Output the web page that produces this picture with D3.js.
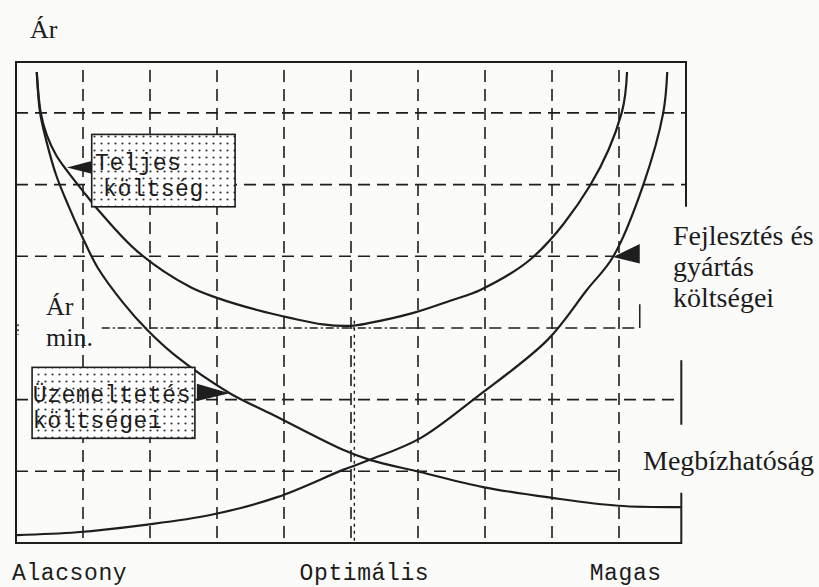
<!DOCTYPE html>
<html>
<head>
<meta charset="utf-8">
<script src="https://cdn.jsdelivr.net/npm/d3@7"></script>
<style>
  body { margin: 0; background: #fbfbf9; }
  svg { display: block; }
  .serif { font-family: "Liberation Serif", "DejaVu Serif", serif; fill: #1c1c1c; }
  .mono { font-family: "Liberation Mono", "DejaVu Sans Mono", monospace; fill: #1c1c1c; }
</style>
</head>
<body>
<div id="chart"></div>
<script>
// reliability (x, 0..10 grid steps) vs price (y, grid steps)
// Üzemeltetés költségei (operating cost) - falling
const opX = [0.31, 0.36, 0.45, 0.60, 0.78, 0.99, 1.22, 1.60, 1.96, 2.37, 3.19, 3.79, 4.88, 5.28, 6.03, 6.97, 8.00, 8.99, 9.93];
const opY = [6.57, 6.00, 5.62, 5.13, 4.71, 4.27, 3.84, 3.35, 2.97, 2.62, 2.09, 1.81, 1.30, 1.16, 0.99, 0.78, 0.63, 0.52, 0.50];
// Teljes költség (total cost) - U shape
const totX = [0.31, 0.37, 0.46, 0.60, 0.78, 0.99, 1.25, 1.82, 2.60, 3.00, 3.60, 4.09, 4.58, 4.99, 5.28, 5.93, 6.48, 6.93, 7.72, 8.57, 9.04, 9.12];
const totY = [6.57, 6.00, 5.69, 5.41, 5.17, 4.92, 4.62, 4.06, 3.57, 3.42, 3.25, 3.14, 3.05, 3.03, 3.07, 3.21, 3.38, 3.53, 3.99, 4.99, 6.00, 6.57];
// Fejlesztés és gyártás költségei (development + production) - rising
const devX = [0.01, 0.91, 1.90, 2.90, 3.90, 4.88, 5.28, 6.03, 6.88, 7.93, 8.52, 8.91, 9.36, 9.66, 9.72];
const devY = [0.11, 0.15, 0.25, 0.39, 0.64, 1.02, 1.16, 1.46, 2.04, 2.83, 3.53, 3.99, 4.99, 6.00, 6.57];

const gridX = [1, 2, 3, 4, 5, 6, 7, 8, 9];
const gridY = [1, 2, 3, 4, 5, 6];
// how far right each horizontal grid line runs (x units)
const gridYEnd = [9.0, 9.93, 9.31, 8.91, 10, 10];

const tickLabels = ["Alacsony", "Optimális", "Magas"];
const tickCenters = [0.8, 5.2, 9.1];

const width = 819, height = 587;

const svg = d3.select("#chart")
  .append("svg")
  .attr("width", width)
  .attr("height", height);

const x = d3.scaleLinear().domain([0, 10]).range([16, 686]);
const y = d3.scaleLinear().domain([0, 6.71]).range([543, 62]);

const ink = "#1e1e1e";

// stipple pattern for the label boxes
const pat = svg.append("defs").append("pattern")
  .attr("id", "dots")
  .attr("patternUnits", "userSpaceOnUse")
  .attr("width", 7).attr("height", 7);
pat.append("rect").attr("width", 7).attr("height", 7).attr("fill", "#fff");
pat.append("circle").attr("cx", 3.5).attr("cy", 3.5).attr("r", 1.1).attr("fill", "#333");

// dashed grid
const grid = svg.append("g")
  .attr("stroke", ink)
  .attr("stroke-width", 1.6)
  .attr("stroke-dasharray", "12,7");

grid.selectAll("line.v")
  .data(gridX)
  .join("line")
  .attr("class", "v")
  .attr("x1", d => x(d)).attr("x2", d => x(d))
  .attr("y1", y(6.6)).attr("y2", y(0));

grid.selectAll("line.h")
  .data(gridY.filter(d => d !== 3))
  .join("line")
  .attr("class", "h")
  .attr("x1", x(0))
  .attr("x2", d => x(gridYEnd[d - 1]))
  .attr("y1", d => y(d)).attr("y2", d => y(d));

// "Ár min." line: dash-dot part then dashed part
svg.append("line")
  .attr("x1", x(1.28)).attr("x2", x(5.93))
  .attr("y1", y(3)).attr("y2", y(3))
  .attr("stroke", ink).attr("stroke-width", 1.6)
  .attr("stroke-dasharray", "8,3,2,3");
svg.append("line")
  .attr("x1", x(5.93)).attr("x2", x(gridYEnd[2]))
  .attr("y1", y(3)).attr("y2", y(3))
  .attr("stroke", ink).attr("stroke-width", 1.6)
  .attr("stroke-dasharray", "12,7");
svg.append("line")
  .attr("x1", x(gridYEnd[2])).attr("x2", x(gridYEnd[2]))
  .attr("y1", y(3)).attr("y2", y(3.33))
  .attr("stroke", ink).attr("stroke-width", 1.5);
// optimum marker, dotted vertical next to the grid line
svg.append("line")
  .attr("x1", x(5.05)).attr("x2", x(5.05))
  .attr("y1", y(3.1)).attr("y2", y(0))
  .attr("stroke", ink).attr("stroke-width", 1.4)
  .attr("stroke-dasharray", "3,4");
svg.append("line")
  .attr("x1", x(0.03)).attr("x2", x(0.03))
  .attr("y1", y(3.05)).attr("y2", y(2.9))
  .attr("stroke", ink).attr("stroke-width", 1.4)
  .attr("stroke-dasharray", "2,3");

// frame (open on the right as in the scan)
const frame = svg.append("g").attr("stroke", ink).attr("stroke-width", 2).attr("fill", "none");
frame.append("path")
  .attr("d", `M${x(10)},${y(4.69)} V${y(6.71)} H${x(0)} V${y(0)} H${x(9.93)} V${y(0.7)}`);
frame.append("line")
  .attr("x1", x(9.93)).attr("x2", x(9.93))
  .attr("y1", y(2.55)).attr("y2", y(1.65));

// curves
const line = d3.line()
  .x(d => x(d[0]))
  .y(d => y(d[1]))
  .curve(d3.curveCatmullRom.alpha(0.5));

const series = [
  d3.zip(opX, opY),
  d3.zip(totX, totY),
  d3.zip(devX, devY)
];

svg.append("g")
  .selectAll("path")
  .data(series)
  .join("path")
  .attr("d", line)
  .attr("fill", "none")
  .attr("stroke", ink)
  .attr("stroke-width", 2.2)
  .attr("stroke-linejoin", "round");

// label boxes
function box(x0, y0, x1, y1, lines, tx, tys) {
  svg.append("rect")
    .attr("x", x(x0)).attr("y", y(y0))
    .attr("width", x(x1) - x(x0))
    .attr("height", y(y1) - y(y0))
    .attr("fill", "url(#dots)")
    .attr("stroke", ink)
    .attr("stroke-width", 1.6);
  svg.append("g")
    .selectAll("text")
    .data(lines)
    .join("text")
    .attr("class", "mono")
    .attr("font-size", 23)
    .attr("letter-spacing", 0.6)
    .attr("x", (d, i) => x(tx[i]))
    .attr("y", (d, i) => y(tys[i]))
    .text(d => d);
}

box(1.13, 5.70, 3.27, 4.69, ["Teljes", "költség"], [1.18, 1.30], [5.20, 4.84]);
box(0.24, 2.45, 2.67, 1.46, ["Üzemeltetés", "költségei"], [0.25, 0.25], [1.96, 1.60]);

// arrows
const arrows = [
  [[0.76, 5.24], [1.13, 5.33], [1.13, 5.15]],
  [[3.19, 2.09], [2.70, 2.22], [2.70, 1.98]],
  [[8.91, 3.99], [9.31, 4.17], [9.31, 3.90]]
];
svg.append("g")
  .selectAll("path")
  .data(arrows)
  .join("path")
  .attr("d", d => "M" + d.map(p => x(p[0]) + "," + y(p[1])).join("L") + "Z")
  .attr("fill", ink);

// texts
svg.append("text").attr("class", "serif").attr("font-size", 26)
  .attr("x", 30).attr("y", 38).text("Ár");

svg.append("g")
  .selectAll("text")
  .data(["Ár", "min."])
  .join("text")
  .attr("class", "serif")
  .attr("font-size", 26)
  .attr("x", 46)
  .attr("y", (d, i) => 315 + i * 31)
  .text(d => d);

svg.append("g")
  .selectAll("text")
  .data(["Fejlesztés és", "gyártás", "költségei"])
  .join("text")
  .attr("class", "serif")
  .attr("font-size", 28)
  .attr("x", 673)
  .attr("y", (d, i) => 245 + i * 31)
  .text(d => d);

svg.append("text").attr("class", "serif").attr("font-size", 28)
  .attr("x", 643).attr("y", 470).text("Megbízhatóság");

svg.append("g")
  .selectAll("text")
  .data(tickLabels)
  .join("text")
  .attr("class", "mono")
  .attr("font-size", 23)
  .attr("letter-spacing", 0.6)
  .attr("text-anchor", "middle")
  .attr("x", (d, i) => x(tickCenters[i]))
  .attr("y", 580)
  .text(d => d);
</script>
</body>
</html>
